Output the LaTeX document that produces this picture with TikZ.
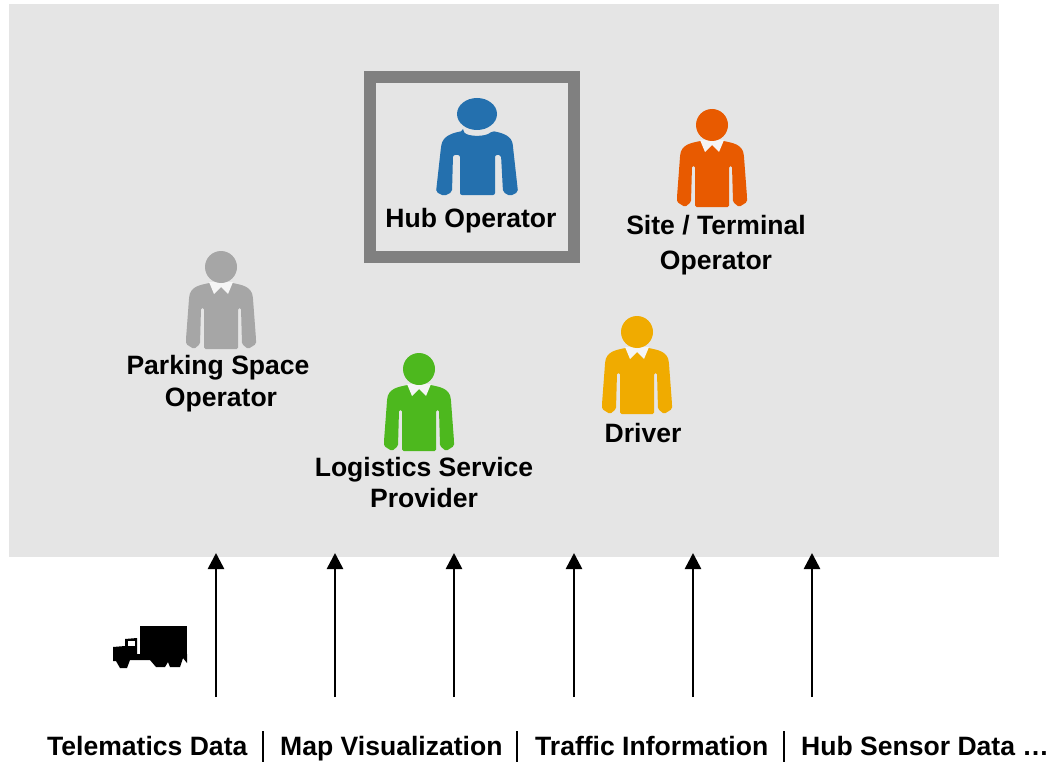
\documentclass[tikz,border=0pt]{standalone}
\usepackage{fontspec}
\setmainfont{Liberation Sans}
\usetikzlibrary{arrows.meta}
\definecolor{panelgray}{HTML}{E5E5E5}
\definecolor{framegray}{HTML}{808080}
\definecolor{hubblue}{HTML}{2470AE}
\definecolor{siteorange}{HTML}{E85A00}
\definecolor{parkgray}{HTML}{A6A6A6}
\definecolor{lspgreen}{HTML}{4DB81E}
\definecolor{driveryellow}{HTML}{F0AB00}
\tikzset{
  x=1pt,y=-1pt,
  lbl/.style={font=\fontsize{26.55}{30}\selectfont\bfseries,inner sep=0pt,anchor=base,text=black},
  flow/.style={-{Triangle[length=16pt,width=16pt]},line width=2.6pt,black},
  sep/.style={line width=1.8pt,black},
  pics/person/.style={code={
    \fill[#1,rounded corners=1.5pt] (-12,16) .. controls (-20,18) and (-31,19) .. (-32,32)
      -- (-35,72) -- (-35,77) -- (-27,82) -- (-21,77) -- (-20,41) -- (-17,41) -- (-17,82)
      -- (17,82) -- (17,41) -- (20,41) -- (21,77) -- (27,82) -- (35,77) -- (35,72)
      -- (32,32) .. controls (31,19) and (20,18) .. (12,16) -- cycle;
    \fill[panelgray!40!white] (-12,15) -- (-7,27) -- (0,20) -- (7,27) -- (12,15) -- cycle;
    \fill[#1] (0,0) circle (16);
  }}
}
\begin{document}
\begin{tikzpicture}
\useasboundingbox (0,0) rectangle (1048,762);
\fill[panelgray] (9,4) rectangle (999,557);
% Hub frame
\draw[framegray,line width=12pt] (370,77) rectangle (574,257);
% Hub operator figure
\fill[hubblue] (477,114) ellipse (20 and 16);
\fill[hubblue,rounded corners=2pt] (463,131) .. controls (468,137) and (486,137) .. (492,131)
  .. controls (503,133) and (512,136) .. (513,147)
  -- (518,192) -- (510,196) -- (503,192) -- (501,155) -- (495,155) -- (495,195)
  -- (460,195) -- (460,155) -- (453,155) -- (452,192) -- (444,196) -- (436,192)
  -- (441,147) .. controls (443,136) and (452,133) .. (463,131) -- cycle;
% Other figures
\pic at (712,125) {person=siteorange};
\pic at (221,267) {person=parkgray};
\pic at (419,369) {person=lspgreen};
\pic at (637,332) {person=driveryellow};
% Role labels
\node[lbl] (hub) at (471,227) {Hub Operator};
\node[lbl] (site1) at (716,234) {Site / Terminal};
\node[lbl] (site2) at (716,269) {Operator};
\node[lbl] (park1) at (218,374) {Parking Space};
\node[lbl] (park2) at (221,406) {Operator};
\node[lbl] (lsp1) at (424,476) {Logistics Service};
\node[lbl] (lsp2) at (424,507) {Provider};
\node[lbl] (drv) at (643,442) {Driver};
% Truck
\fill[black] (140,626) rectangle (187,656);
\fill[black] (113,657) -- (113,647) -- (125,646) -- (125,639) -- (137,638) -- (137,654) -- (187,654) -- (187,663) -- (183,658) -- (180,667) -- (170,667) -- (168,662) -- (165,667) -- (156,667) -- (150,660) -- (130,660) -- (127,668) -- (120,668) -- (116,661) -- (113,661) -- cycle;
\fill[white] (127.5,640.5) rectangle (135,646);
% Arrows
\foreach \n/\x in {a/216,b/335,c/454,d/574,e/693,f/812}{
  \coordinate (\n0) at (\x,697);
  \coordinate (\n1) at (\x,553);
  \draw[flow] (\n0) -- (\n1);
}
% Bottom labels
\node[lbl,anchor=base west] (t1) at (47,755) {Telematics Data};
\node[lbl,anchor=base west] (t2) at (280,755) {Map Visualization};
\node[lbl,anchor=base west] (t3) at (535,755) {Traffic Information};
\node[lbl,anchor=base west] (t4) at (801,755) {Hub Sensor Data …};
\coordinate (s1a) at (263,731); \coordinate (s1b) at (263,762);
\coordinate (s2a) at (517,731); \coordinate (s2b) at (517,762);
\coordinate (s3a) at (784,731); \coordinate (s3b) at (784,762);
\draw[sep] (s1a) -- (s1b);
\draw[sep] (s2a) -- (s2b);
\draw[sep] (s3a) -- (s3b);
\end{tikzpicture}
\end{document}
